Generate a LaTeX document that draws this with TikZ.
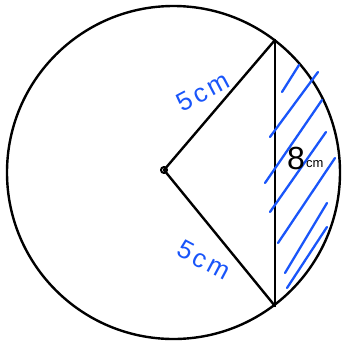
\documentclass[tikz,border=0pt]{standalone}
\usepackage{fontspec}
\setmainfont{Liberation Sans}
\newfontfamily\spacedfont[LetterSpace=12]{Liberation Sans}
\begin{document}
\begin{tikzpicture}[x=1pt,y=-1pt,line cap=round,line join=round]
\definecolor{hatchblue}{RGB}{25,85,250}
\tikzset{
  edge/.style={line width=2.4pt,black},
  hatch/.style={hatchblue,line width=2.3pt},
  lbl/.style={text=hatchblue,font=\spacedfont\fontsize{26}{26}\selectfont,inner sep=0pt},
  chordlbl/.style={text=black,inner sep=0pt}
}
\useasboundingbox (0,0) rectangle (345,349);
\coordinate (C) at (173.5,172.5);
\coordinate (O) at (164,170);
\coordinate (A) at (275,40);
\coordinate (B) at (275,306);
\draw[edge] (C) circle[radius=166.5pt];
\draw[edge] (O) -- (A);
\draw[edge] (O) -- (B);
\draw[edge] (A) -- (B);
\draw[line width=2pt] (O) circle[radius=3pt];
% hatching
\draw[hatch] (282,92) -- (299,65);
\draw[hatch] (270,137) -- (318,72);
\draw[hatch] (265,183) -- (322,100);
\draw[hatch] (270,212) -- (326,132);
\draw[hatch] (278,243) -- (335,158);
\draw[hatch] (285,273) -- (327,203);
\draw[hatch] (287,288) -- (327,227);
% labels
\node[lbl,rotate=28] (t1) at (203,92) {5cm};
\node[lbl,rotate=-28] (t2) at (204,260) {5cm};
\node[chordlbl,font=\fontsize{32}{32}\selectfont] (t3) at (296,158) {8};
\node[chordlbl,font=\fontsize{13}{13}\selectfont,anchor=west] (t4) at (306,164) {cm};
\end{tikzpicture}
\end{document}
